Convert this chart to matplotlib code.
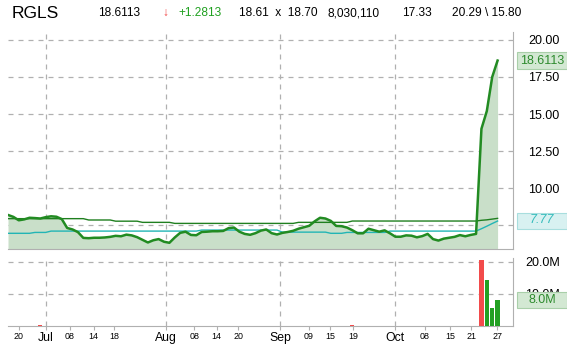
import numpy as np
import matplotlib.pyplot as plt
from matplotlib.patches import Rectangle

plt.rcParams['font.family'] = ['Liberation Sans', 'DejaVu Sans']

# daily closes (trading-day index 0..91)
close = [8.18, 8.05, 7.82, 7.88, 7.99, 7.97, 7.94, 8.03, 8.09, 8.06,
         7.90, 7.30, 7.20, 7.02, 6.63, 6.61, 6.64, 6.64, 6.66, 6.70,
         6.77, 6.74, 6.85, 6.80, 6.68, 6.50, 6.32, 6.47, 6.55, 6.37,
         6.30, 6.66, 6.97, 7.05, 6.83, 6.81, 7.03, 7.05, 7.08, 7.08,
         7.10, 7.29, 7.33, 7.05, 6.90, 6.84, 6.95, 7.12, 7.20, 6.95,
         6.86, 6.97, 7.03, 7.11, 7.25, 7.35, 7.45, 7.75, 7.99, 7.94,
         7.78, 7.44, 7.42, 7.33, 7.15, 6.94, 6.94, 7.25, 7.15, 7.05,
         7.14, 6.94, 6.71, 6.71, 6.80, 6.78, 6.67, 6.75, 6.90, 6.55,
         6.45, 6.58, 6.64, 6.70, 6.82, 6.74, 6.83, 6.90, 14.00, 15.20,
         17.50, 18.61]

# slow moving average (dark green)
ma_long = [7.93] * 15 + [7.84] * 5 + [7.76] * 5 + [7.68] * 6 + [7.61] * 23 \
    + [7.68] * 10 + [7.77] * 24 + [7.82, 7.85, 7.90, 7.95]

# fast moving average (teal)
ma_short = [6.94] * 5 + [7.00] * 3 + [7.09] * 28 + [7.16] * 15 + [7.02] * 9 \
    + [6.94] * 3 + [7.00] * 8 + [7.09] * 17 + [7.25, 7.42, 7.60, 7.77]

# volume (millions) for the visible bars
vol_days = [6, 64, 88, 89, 90, 91]
vol_m = [0.35, 0.35, 20.4, 14.3, 5.6, 8.0]
vol_up = [False, False, False, True, True, True]

tick_pos = [2, 7.06, 11.5, 15.9, 19.7, 29.4, 34.6, 38.8, 42.8,
            50.6, 55.9, 59.9, 64.1, 71.9, 77.5, 82.2, 86.1, 90.9]
tick_lbl = ['20', 'Jul', '08', '14', '18', 'Aug', '08', '14', '20',
            'Sep', '09', '15', '19', 'Oct', '08', '15', '21', '27']
months = ['Jul', 'Aug', 'Sep', 'Oct']
month_pos = [p for p, l in zip(tick_pos, tick_lbl) if l in months]

W, H = 567, 349
fig = plt.figure(figsize=(W / 100, H / 100), dpi=100)
ax = fig.add_axes([8 / W, 1 - 249.3 / H, 505 / W, 217.3 / H])
axv = fig.add_axes([8 / W, 1 - 325.7 / H, 505 / W, 67.7 / H])

grid_kw = dict(color='#b0b0b0', lw=0.9, linestyle=(0, (4, 4)))
spine_c = '#b0b0b0'

days = np.arange(len(close))
ax.fill_between(days, close, 0, color='#c9dfc9', lw=0, zorder=1)
ax.plot(days, ma_long, color='#1f7f1f', lw=1.0, zorder=3)
ax.plot(days, ma_short, color='#22b5b5', lw=1.0, zorder=3)
ax.plot(days, close, color='#228b22', lw=1.8, zorder=4)

xmax = (513 - 8) / 5.38
ax.set_xlim(0, xmax)
ax.set_ylim(5.86, 20.54)
ax.set_xticks(month_pos)
ax.set_xticklabels([])
ax.yaxis.tick_right()
ax.set_yticks([7.5, 10, 12.5, 15, 17.5, 20])
# 7.50 sits under the last-value box, so its label is left empty
ax.set_yticklabels(['', '10.00', '12.50', '15.00', '17.50', '20.00'])
ax.tick_params(axis='both', length=0)
ax.tick_params(axis='y', pad=11, labelsize=9)
ax.grid(True, zorder=0, **grid_kw)
ax.set_axisbelow(True)
for s in ['top', 'left']:
    ax.spines[s].set_visible(False)
for s in ['right', 'bottom']:
    ax.spines[s].set_color(spine_c)

# volume panel
cols = ['#22a022' if u else '#f24b4b' for u in vol_up]
axv.bar(vol_days, vol_m, width=0.78, color=cols, zorder=3)
axv.set_xlim(0, xmax)
axv.set_ylim(0, 21.15)
axv.yaxis.tick_right()
axv.set_yticks([10, 20])
axv.set_yticklabels(['10.0M', '20.0M'])
axv.tick_params(axis='y', length=0, pad=9, labelsize=9)
axv.grid(True, axis='y', zorder=0, **grid_kw)
for p in month_pos:
    axv.axvline(p, zorder=0, **grid_kw)
axv.set_xticks(tick_pos)
axv.set_xticklabels(tick_lbl)
axv.tick_params(axis='x', length=3, color=spine_c, pad=1.5)
for t, l in zip(axv.get_xticklabels(), tick_lbl):
    t.set_fontsize(8.8 if l in months else 6.4)
for s in ['top', 'left']:
    axv.spines[s].set_visible(False)
for s in ['right', 'bottom']:
    axv.spines[s].set_color(spine_c)

# header
hy = 1 - 13 / H
fig.text(12 / W, hy, 'RGLS', fontsize=12.5, va='center')
hdr = [(98, '18.6113', 'black'), (162, '\u2193', '#f04040'),
       (178, '+1.2813', '#20a020'), (239, '18.61  x  18.70', 'black'),
       (327, '8,030,110', 'black'), (402, '17.33', 'black'),
       (452, '20.29 \\ 15.80', 'black')]
for x, s, c in hdr:
    fig.text(x / W, hy, s, fontsize=8.6, color=c, va='center')

# value boxes on the right axis
boxes = [(60.5, '18.6113', '#d3e8d3', '#a9cfa9', '#2e8b2e', 'normal'),
         (220.5, '7.77', '#d8f1f1', '#a8dede', '#36bcbc', 'italic'),
         (300.3, '8.0M', '#d3e8d3', '#a9cfa9', '#2e8b2e', 'normal')]
for yc, s, fc, ec, tc, st in boxes:
    fig.patches.append(Rectangle((517 / W, 1 - (yc + 8) / H), 50 / W, 16 / H,
                                 transform=fig.transFigure, fc=fc, ec=ec,
                                 lw=0.8, zorder=5))
    fig.text(542 / W, 1 - yc / H, s, fontsize=9, color=tc, style=st,
             ha='center', va='center', zorder=6)

fig.savefig('out.png', dpi=100)
